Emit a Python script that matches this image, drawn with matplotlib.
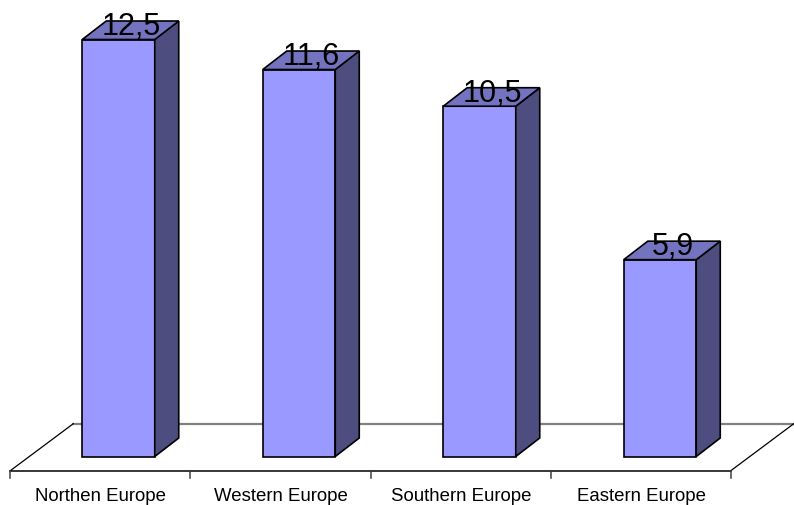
import matplotlib
matplotlib.use('Agg')
import matplotlib.pyplot as plt
from matplotlib.patches import Polygon

plt.rcParams['font.family'] = ['Liberation Sans', 'DejaVu Sans']

categories = ["Northen Europe", "Western Europe", "Southern Europe", "Eastern Europe"]
values = [12.5, 11.6, 10.5, 5.9]
value_labels = ["12,5", "11,6", "10,5", "5,9"]

# pixel scale of the chart: one category and one unit on the value axis
PX_X = 180.5
PX_Y = 33.36
dx = 24 / PX_X      # depth offset of a bar
dy = 18.5 / PX_Y
bar_w = 72.5 / PX_X

fig = plt.figure(figsize=(7.94, 5.06), dpi=100)
ax = fig.add_axes([0, 0, 1, 1])
ax.set_xlim(-118.5 / PX_X, (794 - 118.5) / PX_X)
ax.set_ylim(-(506 - 457.5) / PX_Y, 457.5 / PX_Y)
ax.axis('off')

x = list(range(len(categories)))

# floor
fl = x[0] - 108.2 / PX_X
fr = x[-1] + 70.8 / PX_X
fy = -14.2 / PX_Y
bx = 63 / PX_X
by = 47 / PX_Y
ax.plot([fl + bx, fr + bx], [fy + by, fy + by], color='#808080', lw=1.6, zorder=1)
ax.plot([fl, fl + bx], [fy, fy + by], color='black', lw=0.9, zorder=1)
ax.plot([fr, fr + bx], [fy, fy + by], color='black', lw=0.9, zorder=1)
ax.plot([fl, fr], [fy, fy], color='black', lw=1.1, zorder=1)

# tick marks between the categories
step = (fr - fl) / len(categories)
for i in range(len(categories) + 1):
    ax.plot([fl + i * step] * 2, [fy, fy - 7 / PX_Y], color='#404040', lw=1.1, zorder=1)

for i, v in zip(x, values):
    l = i - bar_w / 2
    r = i + bar_w / 2
    ax.bar(i, v, width=bar_w, color='#9999FF', edgecolor='black', lw=1.2, zorder=3)
    ax.add_patch(Polygon([(r, 0), (r + dx, dy), (r + dx, v + dy), (r, v)],
                         facecolor='#4D4D80', edgecolor='black', lw=1.2, zorder=3))
    ax.add_patch(Polygon([(l, v), (l + dx, v + dy), (r + dx, v + dy), (r, v)],
                         facecolor='#7373BF', edgecolor='black', lw=1.2, zorder=3))

for i, v, s in zip(x, values, value_labels):
    ax.text(i + dx / 2 + 0.004, v + 5.5 / PX_Y, s, fontsize=22, color='black',
            ha='center', va='baseline', zorder=4)

for i, name in zip(x, categories):
    ax.text(fl + (i + 0.5) * step + 0.5 / PX_X, fy - 25 / PX_Y, name, fontsize=13.4, color='black',
            ha='center', va='center', zorder=4)

fig.savefig('out.png', dpi=100)
plt.close(fig)
